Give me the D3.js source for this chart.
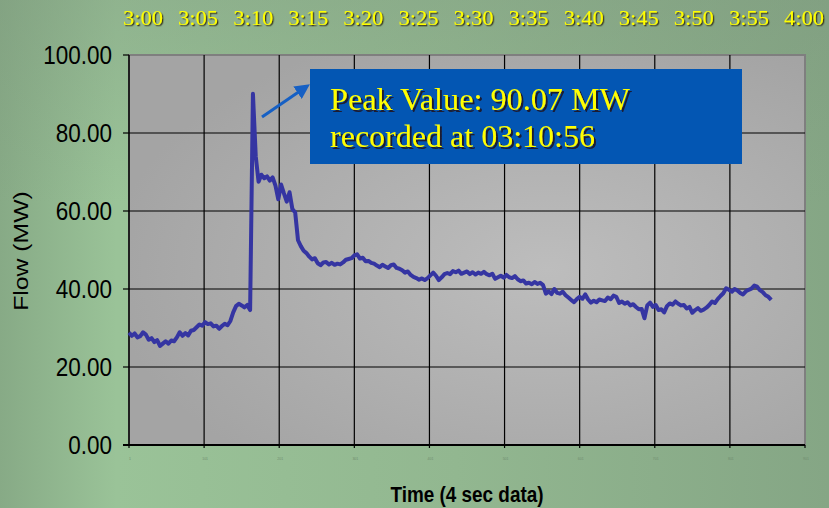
<!DOCTYPE html>
<html>
<head>
<meta charset="utf-8">
<script src="https://cdn.jsdelivr.net/npm/d3@7"></script>
<style>
  html, body { margin: 0; padding: 0; }
  #main { width: 829px; height: 508px; }
  .serif { font-family: "Liberation Serif", "Tinos", "Times New Roman", "DejaVu Serif", serif; }
</style>
</head>
<body>
<div id="main"></div>
<script>
// flow readings (MW), one every 15 seconds starting at 3:00:00
const stepMinutes = 0.25;
const flow = [
  28.8, 28.0, 28.6, 27.6, 27.9, 28.9, 28.3, 27.0,
  27.4, 26.4, 26.9, 25.4, 26.0, 26.6, 26.0, 26.8,
  26.6, 27.6, 28.9, 28.0, 28.7, 28.1, 29.3, 29.5,
  30.2, 30.9, 30.6, 31.5, 31.0, 31.2, 30.4, 30.6,
  29.8, 30.5, 31.1, 30.7, 31.8, 34.0, 35.6, 36.2,
  35.8, 35.3, 35.9, 34.6, 90.07, 74.0, 67.5, 69.3,
  68.4, 68.9, 67.8, 68.6, 66.5, 63.0, 66.8, 64.5,
  62.4, 64.8, 60.5, 59.6, 52.5, 51.0, 49.8, 49.2,
  48.3, 47.6, 47.9, 46.6, 46.1, 46.8, 46.9, 46.3,
  46.7, 46.2, 46.5, 46.3, 46.8, 47.5, 47.7, 47.9,
  48.6, 48.9, 47.8, 48.0, 47.1, 47.2, 46.7, 46.5,
  46.0, 45.6, 46.2, 45.8, 45.4, 46.1, 46.3, 45.4,
  45.2, 44.8, 44.2, 44.5, 43.6, 43.1, 42.8, 42.4,
  42.7, 42.3, 42.8, 43.5, 44.2, 43.4, 42.3, 43.0,
  43.8, 44.1, 43.8, 44.6, 44.3, 44.7, 43.9, 44.2,
  44.5, 43.8, 44.3, 43.7, 44.2, 43.9, 44.4, 43.8,
  43.5, 43.9, 42.6, 43.0, 43.4, 42.9, 43.6, 43.0,
  42.8, 43.3, 42.5, 42.0, 42.2, 41.4, 41.6, 41.2,
  41.8, 41.3, 41.6, 41.0, 38.8, 39.4, 38.7, 40.0,
  39.0, 38.8, 39.3, 38.4, 37.8, 37.2, 36.6, 37.4,
  38.0, 37.5, 38.6, 37.3, 36.5, 37.0, 36.6, 37.3,
  37.1, 36.9, 37.8, 37.4, 38.3, 38.0, 36.4, 36.8,
  36.2, 36.6, 35.8, 36.1, 35.4, 34.8, 34.9, 32.5,
  35.8, 36.5, 35.4, 35.9, 34.6, 34.8, 34.0, 35.6,
  36.3, 36.0, 36.8, 36.2, 35.8, 35.9, 35.0, 35.4,
  33.9, 34.6, 35.1, 34.4, 34.7, 35.2, 35.9, 36.8,
  36.4, 37.4, 38.2, 38.9, 40.2, 39.8, 39.3, 40.0,
  39.6, 39.0, 38.6, 39.4, 39.8, 40.1, 40.9, 40.6,
  39.7, 39.2, 38.4, 38.0, 37.2
];

const clockLabels = ["3:00", "3:05", "3:10", "3:15", "3:20", "3:25", "3:30",
  "3:35", "3:40", "3:45", "3:50", "3:55", "4:00"];
const sampleTicks = [1, 101, 201, 301, 401, 501, 601, 701, 801, 901];
const flowTicks = [0, 20, 40, 60, 80, 100];
const peakText = ["Peak Value: 90.07 MW", "recorded at 03:10:56"];
const xTitle = "Time (4 sec data)";
const yTitle = "Flow (MW)";

const elm = d3.select("#main");
const svg = elm.append("svg")
.attr("width", 829)
.attr("height", 508);

const defs = svg.append("defs");

const bg = defs.append("linearGradient").attr("id", "bg");
[["0", "#87aa86"], ["0.14", "#9ac398"], ["0.55", "#92b790"], ["1", "#85a685"]]
.forEach(s => bg.append("stop").attr("offset", s[0]).attr("stop-color", s[1]));

const bgTop = defs.append("linearGradient")
.attr("id", "bgTop")
.attr("x1", 0).attr("y1", 0).attr("x2", 0).attr("y2", 1);
bgTop.append("stop").attr("offset", 0).attr("stop-color", "#7c967c").attr("stop-opacity", 0.35);
bgTop.append("stop").attr("offset", 0.4).attr("stop-color", "#7c967c").attr("stop-opacity", 0);

const plotBg = defs.append("radialGradient")
.attr("id", "plotBg")
.attr("cx", "62%").attr("cy", "55%").attr("r", "65%");
plotBg.append("stop").attr("offset", 0).attr("stop-color", "#bdbdbd");
plotBg.append("stop").attr("offset", 1).attr("stop-color", "#a4a4a4");

const shadow = (id, d, color) => {
  defs.append("filter")
  .attr("id", id)
  .attr("x", "-10%").attr("y", "-30%").attr("width", "130%").attr("height", "170%")
  .append("feDropShadow")
  .attr("dx", d).attr("dy", d)
  .attr("stdDeviation", 0.3)
  .attr("flood-color", color)
  .attr("flood-opacity", 1);
};
shadow("shadowSmall", 1.3, "#3a3a1a");
shadow("shadowBig", 2, "#1b1b30");

defs.append("marker")
.attr("id", "head")
.attr("viewBox", "0 0 10 10")
.attr("refX", 2).attr("refY", 5)
.attr("markerWidth", 5).attr("markerHeight", 5)
.attr("orient", "auto")
.append("path")
.attr("d", "M0,0 L10,5 L0,10 z")
.attr("fill", "#1660c4");

svg.append("rect").attr("width", 829).attr("height", 508).attr("fill", "url(#bg)");
svg.append("rect").attr("width", 829).attr("height", 508).attr("fill", "url(#bgTop)");

const pl = 129, pr = 805, pt = 55, pb = 445;

const x = d3.scaleLinear().domain([1, 901]).range([pl, pr]);
const y = d3.scaleLinear().domain([0, 100]).range([pb, pt]);
const clockX = d3.scalePoint().domain(clockLabels).range([143, 804]);

// plot area
svg.append("rect")
.attr("x", pl).attr("y", pt)
.attr("width", pr - pl).attr("height", pb - pt)
.attr("fill", "url(#plotBg)")
.attr("stroke", "#7f7f7f")
.attr("stroke-width", 2);

// grid
svg.append("g")
.selectAll("line")
.data(flowTicks.slice(1, -1))
.enter()
.append("line")
.attr("x1", pl).attr("x2", pr)
.attr("y1", d => y(d)).attr("y2", d => y(d))
.attr("stroke", "#000")
.attr("stroke-width", 1.2);

svg.append("g")
.selectAll("line")
.data(sampleTicks.slice(1, -1))
.enter()
.append("line")
.attr("x1", d => x(d)).attr("x2", d => x(d))
.attr("y1", pt).attr("y2", pb)
.attr("stroke", "#000")
.attr("stroke-width", 1.2);

// axes lines
svg.append("line")
.attr("x1", pl).attr("x2", pl).attr("y1", pt).attr("y2", pb + 1)
.attr("stroke", "#000").attr("stroke-width", 1.5);
svg.append("line")
.attr("x1", pl - 6).attr("x2", pr).attr("y1", pb).attr("y2", pb)
.attr("stroke", "#000").attr("stroke-width", 2);

// y ticks + labels
const yg = svg.append("g");
yg.selectAll("line")
.data(flowTicks)
.enter()
.append("line")
.attr("x1", pl - 6).attr("x2", pl)
.attr("y1", d => y(d)).attr("y2", d => y(d))
.attr("stroke", "#000").attr("stroke-width", 1.2);

yg.selectAll("text")
.data(flowTicks)
.enter()
.append("text")
.attr("transform", d => `translate(112, ${y(d) + 9}) scale(0.9, 1)`)
.attr("text-anchor", "end")
.attr("font-family", "Liberation Sans, Arial, sans-serif")
.attr("font-size", 25)
.attr("fill", "#000")
.text(d => d3.format(".2f")(d));

// x ticks + tiny labels
const xg = svg.append("g");
xg.selectAll("line")
.data(sampleTicks)
.enter()
.append("line")
.attr("x1", d => x(d)).attr("x2", d => x(d))
.attr("y1", pb).attr("y2", pb + 3)
.attr("stroke", "#000").attr("stroke-width", 1.2);

xg.selectAll("text")
.data(sampleTicks)
.enter()
.append("text")
.attr("x", d => x(d) + 1)
.attr("y", 460)
.attr("text-anchor", "middle")
.attr("font-family", "Liberation Sans, Arial, sans-serif")
.attr("font-size", 3.5)
.attr("fill", "#6f8c6f")
.text(d => d);

// titles
svg.append("text")
.attr("transform", "translate(467, 502) scale(0.86, 1)")
.attr("text-anchor", "middle")
.attr("font-family", "Liberation Sans, Arial, sans-serif")
.attr("font-weight", "bold")
.attr("font-size", 22)
.attr("fill", "#000")
.text(xTitle);

svg.append("text")
.attr("transform", "translate(28, 251) rotate(-90) scale(1.18, 1)")
.attr("text-anchor", "middle")
.attr("font-family", "Liberation Sans, Arial, sans-serif")
.attr("font-size", 21)
.attr("fill", "#000")
.text(yTitle);

// clock labels on top
svg.append("g")
.attr("class", "serif")
.attr("font-size", 22)
.attr("text-anchor", "middle")
.attr("filter", "url(#shadowSmall)")
.selectAll("text")
.data(clockLabels)
.enter()
.append("text")
.attr("x", d => clockX(d))
.attr("y", 25)
.attr("fill", "#ffff00")
.attr("textLength", 40)
.attr("lengthAdjust", "spacingAndGlyphs")
.text(d => d);

// flow line
const line = d3.line()
.x((d, i) => x(1 + i * stepMinutes * 15))
.y(d => y(d));

svg.append("path")
.datum(flow)
.attr("d", line)
.attr("fill", "none")
.attr("stroke", "#3535a2")
.attr("stroke-width", 4)
.attr("stroke-linejoin", "round");

// annotation
svg.append("line")
.attr("x1", 262).attr("y1", 117)
.attr("x2", 300).attr("y2", 91)
.attr("stroke", "#1660c4")
.attr("stroke-width", 3)
.attr("marker-end", "url(#head)");

svg.append("rect")
.attr("x", 310).attr("y", 69)
.attr("width", 432).attr("height", 95)
.attr("fill", "#0356b3");

svg.append("g")
.attr("class", "serif")
.attr("font-size", 32)
.attr("filter", "url(#shadowBig)")
.selectAll("text")
.data(peakText)
.enter()
.append("text")
.attr("x", 330)
.attr("y", (d, i) => 110 + i * 37)
.attr("fill", "#ffff00")
.attr("textLength", (d, i) => i === 0 ? 300 : 265)
.attr("lengthAdjust", "spacingAndGlyphs")
.text(d => d);
</script>
</body>
</html>
